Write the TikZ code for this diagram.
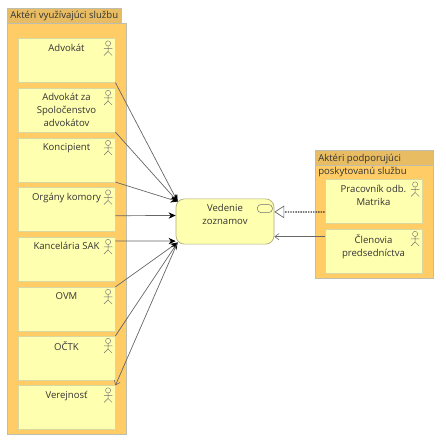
\documentclass[tikz,border=0pt]{standalone}
\usepackage{fontspec}
\setmainfont{Open Sans}
\usetikzlibrary{arrows.meta,positioning,calc}
\definecolor{grpfill}{HTML}{FFCC66}
\definecolor{grptab}{HTML}{E8BC62}
\definecolor{grpline}{HTML}{BDBDB0}
\definecolor{boxfill}{HTML}{FFFFB0}
\definecolor{boxline}{HTML}{D8D8A0}
\definecolor{txt}{HTML}{333333}
\definecolor{conn}{HTML}{666666}
% actor icon at the top right corner of a box
\newcommand{\actoricon}[1]{\draw[txt!70,line width=0.3pt,shift={(#1.north east)}]
  (-7.3,5) circle[radius=2.6] (-7.3,7.6) -- (-7.3,13) (-11.5,10) -- (-3,10) (-11.3,17) -- (-7.3,13) -- (-3.3,17);}
\begin{document}
\begin{tikzpicture}[x=0.025cm,y=-0.025cm,font=\fontsize{6.8}{9.1}\selectfont,text=txt]
\tikzset{
  grp/.style={draw=grpline,fill=grpfill,line width=0.5pt,inner sep=0pt},
  grptitle/.style={draw=grpline,fill=grptab,line width=0.5pt,inner sep=0pt,anchor=north west},
  actorbox/.style={draw=boxline,fill=boxfill,line width=0.4pt,minimum width=2.43cm,minimum height=1.09cm,inner sep=0pt},
  boxtext/.style={anchor=north,align=center,inner sep=0pt,yshift=-0.13cm},
  rel/.style={draw=conn,line width=0.5pt},
  served/.style={rel,-{Stealth[length=5pt,width=4.5pt,black]}},
  open/.style={rel,-{Straight Barb[length=3pt,width=4.5pt,line width=0.4pt]}}
}
\useasboundingbox (0,0) rectangle (446,446);
% groups
\node[grp,minimum width=2.975cm,minimum height=10.275cm,anchor=north west] (grpuse) at (7,23) {};
\node[grptitle,minimum width=2.85cm,minimum height=0.375cm] (grpusetab) at (7,8) {};
\node[anchor=west,inner sep=0pt] (grpusetxt) at (10,16) {Aktéri využívajúci službu};
\node[grp,minimum width=2.95cm,minimum height=3.2cm,anchor=north west] (grpsup) at (315,150) {};
\node[grptitle,minimum width=2.95cm,minimum height=0.375cm] (grpsuptab) at (315,150) {};
\node[anchor=north west,inner sep=0pt,align=left] (grpsuptxt) at (318,154) {Aktéri podporujúci\\poskytovanú službu};
% actors on the left
\node[actorbox,label={[boxtext]north:Advokát}] (adv) at (66.5,60.5) {};
\node[actorbox,label={[boxtext]north:Advokát za\\Spoločenstvo\\advokátov}] (advsp) at (66.5,110) {};
\node[actorbox,label={[boxtext]north:Koncipient}] (konc) at (66.5,160) {};
\node[actorbox,label={[boxtext]north:Orgány komory}] (org) at (66.5,209.5) {};
\node[actorbox,label={[boxtext]north:Kancelária SAK}] (sak) at (66.5,259) {};
\node[actorbox,label={[boxtext]north:OVM}] (ovm) at (66.5,309) {};
\node[actorbox,label={[boxtext]north:OČTK}] (octk) at (66.5,358) {};
\node[actorbox,label={[boxtext]north:Verejnosť}] (ver) at (66.5,407.5) {};
% actors on the right
\node[actorbox,label={[boxtext]north:Pracovník odb.\\Matrika}] (prac) at (373.5,201.5) {};
\node[actorbox,label={[boxtext]north:Členovia\\predsedníctva}] (clen) at (373.5,251) {};
\foreach \n in {adv,advsp,konc,org,sak,ovm,octk,ver,prac,clen} {\actoricon{\n}}
% service
\node[draw=boxline!80!black,fill=boxfill,line width=0.5pt,rounded corners=6pt,minimum width=2.45cm,minimum height=1.13cm,inner sep=0pt,label={[boxtext]north:Vedenie\\zoznamov}] (ved) at (225,221.5) {};
\draw[txt!70,line width=0.35pt,rounded corners=2.5pt,shift={(ved.north east)}] (-17,6) rectangle (-2,14);
% connectors
\draw[served] (adv.south east) -- ([shift={(2,3)}]ved.north west);
\draw[served] (advsp.south east) -- ([shift={(2,3)}]ved.north west);
\draw[served] (konc.south east) -- ([shift={(2,3)}]ved.north west);
\draw[served] ([yshift=-0.155cm]org.east) -- ([yshift=0.15cm]ved.west);
\draw[served] ([yshift=-0.1cm]sak.north east) -- ([yshift=-0.49cm]ved.west);
\draw[served] (ovm.north east) -- ([shift={(2,-2)}]ved.south west);
\draw[served] (octk.north east) -- ([shift={(2,-2)}]ved.south west);
\draw[open] ([shift={(2,-2)}]ved.south west) -- (ver.north east);
\draw[draw=txt,line width=0.9pt,dash pattern=on 1pt off 0.8pt,-{Triangle[open,length=7pt,width=9pt,line width=0.5pt,conn]}] ([yshift=-0.26cm]prac.west) -- ([yshift=0.24cm]ved.east);
\draw[open] (clen.north west |- 0,236.7) -- (ved.east |- 0,236.7);
\end{tikzpicture}
\end{document}
